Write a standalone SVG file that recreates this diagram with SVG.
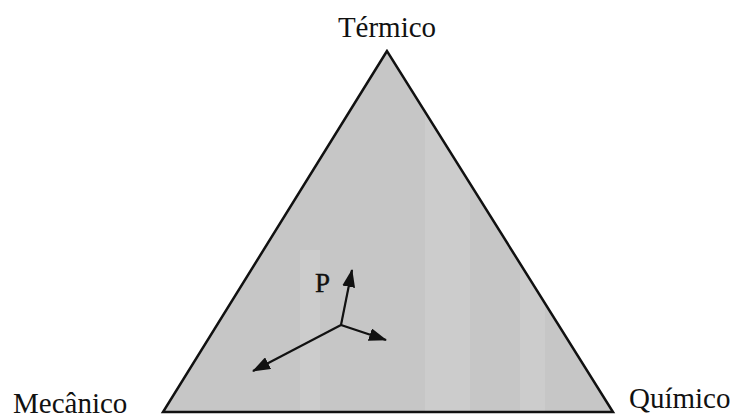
<svg xmlns="http://www.w3.org/2000/svg" width="743" height="418" viewBox="0 0 743 418">
<style>
.lbl{font-family:"Liberation Serif","Times New Roman",serif;font-size:29px;fill:#111}
.arr{stroke:#111;stroke-width:2.2;fill:none;marker-end:url(#ah)}
.band{fill:#d2d2d2}
</style>
<defs>
<marker id="ah" viewBox="0 0 18 13" refX="17" refY="6.5" markerWidth="18" markerHeight="13" markerUnits="userSpaceOnUse" orient="auto" preserveAspectRatio="none">
<path d="M0,0 L18,6.5 L0,13 z" fill="#111"/>
</marker>
<clipPath id="tri"><polygon points="387,51 163,412 613,412"/></clipPath>
</defs>
<rect width="743" height="418" fill="#fff"/>
<g id="triangle">
<polygon points="387,51 163,412 613,412" fill="#c6c6c6"/>
<g clip-path="url(#tri)" opacity="0.45">
<rect class="band" x="425" y="60" width="45" height="352"/>
<rect class="band" x="300" y="250" width="20" height="162"/>
<rect class="band" x="520" y="250" width="25" height="162"/>
</g>
<polygon points="387,51 163,412 613,412" fill="none" stroke="#111" stroke-width="2.5"/>
</g>
<g id="label-termico"><text class="lbl" x="387" y="37" text-anchor="middle">Térmico</text></g>
<g id="label-mecanico"><text class="lbl" x="13" y="413">Mecânico</text></g>
<g id="label-quimico"><text class="lbl" x="629" y="408">Químico</text></g>
<g id="point-P"><text x="315" y="292" font-family="'Liberation Serif','Times New Roman',serif" font-size="27" fill="#111" stroke="#111" stroke-width="0.4">P</text></g>
<g id="connectors">
<line class="arr" x1="341" y1="325" x2="352" y2="270"/>
<line class="arr" x1="341" y1="325" x2="386" y2="340"/>
<line class="arr" x1="341" y1="325" x2="253" y2="371"/>
</g>
</svg>
